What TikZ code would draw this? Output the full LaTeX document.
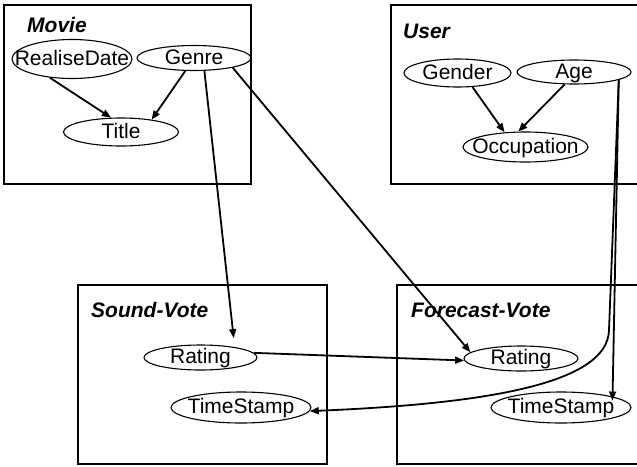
\documentclass[tikz,border=0pt]{standalone}
\usepackage{fontspec}
\setmainfont{Liberation Sans}
\usetikzlibrary{shapes.geometric,arrows.meta}
\newcommand\picfont{\fontsize{21}{25}\selectfont}

\begin{document}
\begin{tikzpicture}[x=1pt,y=-1pt,font=\picfont]
\tikzset{FrameStyle/.style={draw, line width=2pt, inner sep=0pt},
  VarStyle/.style={ellipse, draw, line width=1.1pt, inner sep=0pt},
  every label/.style={inner sep=0pt, text height=15pt, text depth=3pt},
  TitleStyle/.style={anchor=west, inner sep=0pt, font=\picfont\bfseries\itshape},
  EdgeStyle/.style={line width=1.8pt, line join=round, -{Triangle[length=9pt,width=7pt]}}}
\clip (0,0) rectangle (637,466);
\node[FrameStyle, minimum width=247, minimum height=179] (movie) at (127.5,94.5) {};
\node[FrameStyle, minimum width=269, minimum height=179] (user) at (525.5,94.5) {};
\node[FrameStyle, minimum width=249, minimum height=179] (sound) at (202.5,374.5) {};
\node[FrameStyle, minimum width=263, minimum height=179] (forecast) at (528.5,374.5) {};
\node[TitleStyle] (movielbl) at (27,25) {Movie};
\node[TitleStyle] (userlbl) at (403,31) {User};
\node[TitleStyle] (soundlbl) at (91,310) {Sound-Vote};
\node[TitleStyle] (forecastlbl) at (411,310) {Forecast-Vote};
\node[VarStyle, minimum width=120, minimum height=39, label=center:RealiseDate] (rdate) at (72,59) {};
\node[VarStyle, minimum width=114, minimum height=25, label=center:Genre] (genre) at (194,58) {};
\node[VarStyle, minimum width=115, minimum height=28, label=center:Title] (title) at (121,132) {};
\node[VarStyle, minimum width=107, minimum height=28, label=center:Gender] (gender) at (457.5,73) {};
\node[VarStyle, minimum width=114, minimum height=24, label=center:Age] (age) at (574,72) {};
\node[VarStyle, minimum width=125, minimum height=30, label=center:Occupation] (occup) at (525.5,147) {};
\node[VarStyle, minimum width=113, minimum height=25, label=center:Rating] (srating) at (200.5,357.5) {};
\node[VarStyle, minimum width=140, minimum height=31, label=center:TimeStamp] (sstamp) at (241,407.5) {};
\node[VarStyle, minimum width=114, minimum height=25, label=center:Rating] (frating) at (521,358.5) {};
\node[VarStyle, minimum width=140, minimum height=31, label=center:TimeStamp] (fstamp) at (561,407.5) {};
\coordinate (bend) at (609,330);
\draw[EdgeStyle] (rdate.-140) -- (title.125);
\draw[EdgeStyle] (genre.-124) -- (title.22);
\draw[EdgeStyle, shorten >=9pt] (genre.-51) -- (srating.17);
\draw[EdgeStyle] (genre.-14) -- (frating.173);
\draw[EdgeStyle] (gender.-43) -- (occup.145);
\draw[EdgeStyle] (age.-127) -- (occup.115);
\draw[EdgeStyle] (srating.5) -- (frating.182);
\draw[EdgeStyle, shorten >=-4pt] (age.-10) -- (fstamp.12);
\draw[EdgeStyle] (age.-10) -- (bend) .. controls (608,385) and (480,404) .. (sstamp.-3);
\end{tikzpicture}
\end{document}
